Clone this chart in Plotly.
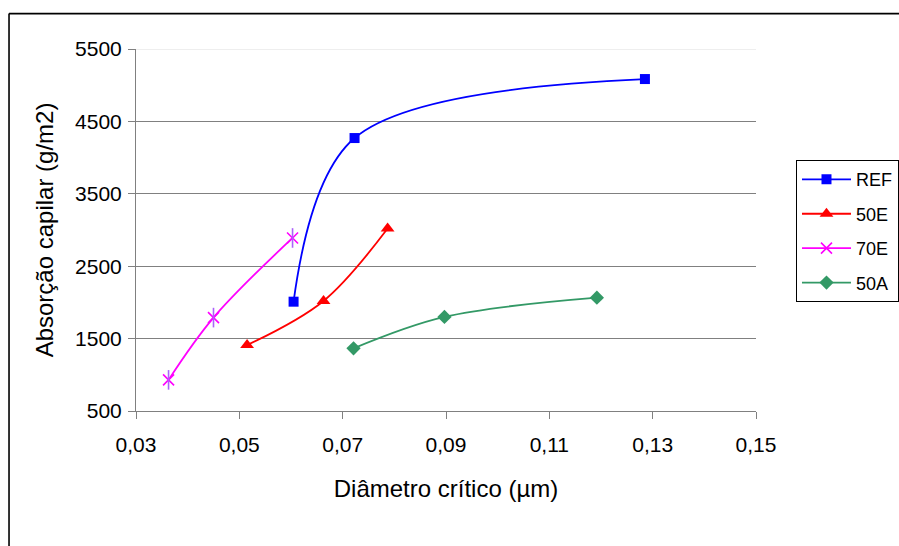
import plotly.graph_objects as go

# Critical pore diameter (µm) vs. capillary absorption (g/m2) per mix
diam_ref = [0.0605, 0.0723, 0.1285]
abs_ref = [2010, 4270, 5085]

diam_50e = [0.0515, 0.0663, 0.0787]
abs_50e = [1410, 2020, 3020]

diam_70e = [0.0363, 0.0450, 0.0603]
abs_70e = [930, 1790, 2890]

diam_50a = [0.0721, 0.0897, 0.1192]
abs_50a = [1365, 1800, 2065]

series_names = ["REF", "50E", "70E", "50A"]
x_ticks = [0.03, 0.05, 0.07, 0.09, 0.11, 0.13, 0.15]
y_ticks = [500, 1500, 2500, 3500, 4500, 5500]

FONT = "Liberation Sans, Arial, sans-serif"
LW = 1.8

fig = go.Figure()

fig.add_trace(go.Scatter(
    x=diam_ref, y=abs_ref, name=series_names[0], mode="lines+markers",
    line=dict(color="#0000FF", width=LW, shape="spline"),
    marker=dict(symbol="square", size=10, color="#0000FF"),
    legendgroup="ref", legendrank=1,
))
fig.add_trace(go.Scatter(
    x=diam_50e, y=abs_50e, name=series_names[1], mode="lines+markers",
    line=dict(color="#FF0000", width=LW, shape="spline"),
    marker=dict(symbol="triangle-up", size=12, color="#FF0000"),
    legendgroup="50e", legendrank=2,
))
fig.add_trace(go.Scatter(
    x=diam_70e, y=abs_70e, name=series_names[2], mode="lines+markers",
    line=dict(color="#FF00FF", width=LW, shape="spline"),
    marker=dict(symbol="x-thin-open", size=11,
                line=dict(color="#FF00FF", width=1.6)),
    legendgroup="70e", legendrank=3,
))
# vertical stroke completing the six-armed star marker
fig.add_trace(go.Scatter(
    x=diam_70e, y=abs_70e, mode="markers", showlegend=False,
    marker=dict(symbol="line-ns-open", size=14,
                line=dict(color="#FF00FF", width=1.6)),
    legendgroup="70e", hoverinfo="skip",
))
fig.add_trace(go.Scatter(
    x=diam_50a, y=abs_50a, name=series_names[3], mode="lines+markers",
    line=dict(color="#339966", width=LW, shape="spline"),
    marker=dict(symbol="diamond", size=11, color="#339966"),
    legendgroup="50a", legendrank=4,
))

# chart-area frame (top and left edges)
fx0, fy1 = -0.2048, 1.0978
fig.add_shape(type="line", xref="paper", yref="paper",
              x0=fx0, x1=fx0, y0=-0.6, y1=fy1,
              line=dict(color="black", width=1.6))
fig.add_shape(type="line", xref="paper", yref="paper",
              x0=fx0, x1=1.5, y0=fy1, y1=fy1,
              line=dict(color="black", width=1.6))
# faint top gridline
fig.add_shape(type="line", xref="paper", yref="y",
              x0=0, x1=1, y0=y_ticks[-1], y1=y_ticks[-1],
              line=dict(color="#DDDDDD", width=1), layer="below")

fig.update_layout(
    width=899, height=546,
    margin=dict(l=136, r=143, t=49, b=135, autoexpand=False),
    paper_bgcolor="white", plot_bgcolor="white",
    separators=",.",
    font=dict(family=FONT, size=21, color="black"),
    showlegend=True,
    legend=dict(
        x=1.0645, y=0.693, xanchor="left", yanchor="top",
        bordercolor="black", borderwidth=1, bgcolor="white",
        font=dict(family=FONT, size=18, color="black"),
        traceorder="grouped", tracegroupgap=8,
        itemwidth=49,
    ),
    xaxis=dict(
        range=[x_ticks[0], x_ticks[-1]], tickvals=x_ticks, tickformat=".2f",
        showgrid=False, zeroline=False,
        showline=True, linecolor="#808080", linewidth=1,
        ticks="outside", ticklen=7, tickcolor="#808080",
        tickfont=dict(size=21), ticklabelstandoff=8,
        title=dict(text="Diâmetro crítico (µm)", font=dict(size=24), standoff=24),
    ),
    yaxis=dict(
        range=[y_ticks[0], y_ticks[-1]], tickvals=y_ticks, tickformat="d",
        showgrid=True, gridcolor="#808080", gridwidth=1, zeroline=False,
        showline=True, linecolor="#808080", linewidth=1,
        ticks="outside", ticklen=7, tickcolor="#808080",
        tickfont=dict(size=21), ticklabelstandoff=2,
        title=dict(text="Absorção capilar (g/m2)", font=dict(size=24), standoff=14),
    ),
)

fig.write_html("out.html")
